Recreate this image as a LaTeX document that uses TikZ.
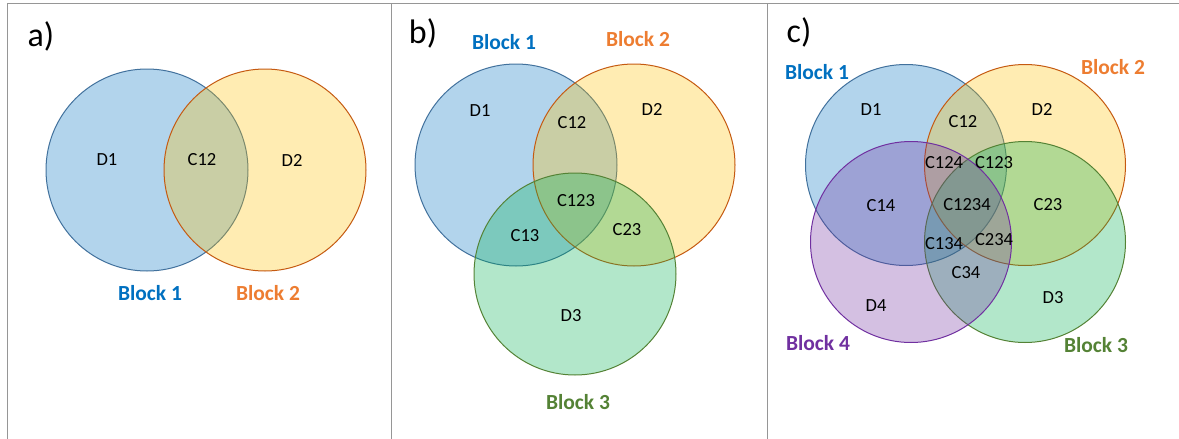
\documentclass[tikz,border=0pt]{standalone}
\usepackage{fontspec}
\setmainfont{Carlito}
\definecolor{fblue}{RGB}{0,112,192}
\definecolor{fyel}{RGB}{255,192,0}
\definecolor{fgrn}{RGB}{0,176,80}
\definecolor{fpur}{RGB}{112,48,160}
\definecolor{sblue}{RGB}{65,113,156}
\definecolor{sorg}{RGB}{197,90,17}
\definecolor{sgrn}{RGB}{84,130,53}
\definecolor{spur}{RGB}{112,48,160}
\definecolor{tblue}{RGB}{0,112,192}
\definecolor{torg}{RGB}{237,125,49}
\definecolor{tgrn}{RGB}{84,130,53}
\definecolor{tpur}{RGB}{112,48,160}
\definecolor{frame}{RGB}{150,150,150}
\tikzset{
  c1/.style={draw=sblue,fill=fblue,fill opacity=0.3,draw opacity=1,line width=1pt},
  c2/.style={draw=sorg,fill=fyel,fill opacity=0.3,draw opacity=1,line width=1pt},
  c3/.style={draw=sgrn,fill=fgrn,fill opacity=0.3,draw opacity=1,line width=1pt},
  c4/.style={draw=spur,fill=fpur,fill opacity=0.3,draw opacity=1,line width=1pt},
  lbl/.style={font=\fontsize{18.5}{20}\selectfont,text=black,inner sep=0pt},
  blk/.style={font=\fontsize{21.5}{24}\selectfont\bfseries,inner sep=0pt},
  ttl/.style={font=\fontsize{34}{38}\selectfont,inner sep=0pt},
  sep/.style={draw=frame,line width=1pt}
}
\begin{document}
\begin{tikzpicture}[x=1pt,y=-1pt]
\useasboundingbox (0,0) rectangle (1179,439);
% frame
\coordinate (tl) at (7,3);
\coordinate (tr) at (1179,3);
\coordinate (bl) at (7,439);
\coordinate (s1t) at (391.5,3);
\coordinate (s1b) at (391.5,439);
\coordinate (s2t) at (767,3);
\coordinate (s2b) at (767,439);
\draw[sep] (bl) -- (tl) -- (tr);
\draw[sep] (s1t) -- (s1b);
\draw[sep] (s2t) -- (s2b);
% panel a
\node[ttl] (ta) at (41,36) {a)};
\path[c1] (147,170) circle (101);
\path[c2] (265,170) circle (101);
\node[lbl] (ad1) at (107,160) {D1};
\node[lbl] (ac12) at (202,160) {C12};
\node[lbl] (ad2) at (292,160) {D2};
\node[blk,text=tblue] (ab1) at (150,293) {Block 1};
\node[blk,text=torg] (ab2) at (268,293) {Block 2};
% panel b
\node[ttl] (tb) at (423,33) {b)};
\path[c1] (516,165) circle (101);
\path[c2] (634,165) circle (101);
\path[c3] (575,274) circle (101);
\node[lbl] (bd1) at (480,111) {D1};
\node[lbl] (bc12) at (572,123) {C12};
\node[lbl] (bd2) at (652,109) {D2};
\node[lbl] (bc123) at (576,201) {C123};
\node[lbl] (bc13) at (525,236) {C13};
\node[lbl] (bc23) at (627,230) {C23};
\node[lbl] (bd3) at (571,316) {D3};
\node[blk,text=tblue] (bb1) at (504,42) {Block 1};
\node[blk,text=torg] (bb2) at (638,39) {Block 2};
\node[blk,text=tgrn] (bb3) at (578,402) {Block 3};
% panel c
\node[ttl] (tc) at (799,32) {c)};
\path[c1] (906,165) circle (100.5);
\path[c2] (1025,165) circle (100.5);
\path[c3] (1025,242) circle (100.5);
\path[c4] (911,242) circle (100.5);
\node[lbl] (cd1) at (871,110) {D1};
\node[lbl] (cc12) at (963,122) {C12};
\node[lbl] (cd2) at (1042,109) {D2};
\node[lbl] (cc124) at (944,163) {C124};
\node[lbl] (cc123) at (994,163) {C123};
\node[lbl] (cc14) at (881,206) {C14};
\node[lbl] (cc1234) at (967,205) {C1234};
\node[lbl] (cc23) at (1048,205) {C23};
\node[lbl] (cc134) at (944,244) {C134};
\node[lbl] (cc234) at (994,240) {C234};
\node[lbl] (cc34) at (966,273) {C34};
\node[lbl] (cd4) at (876,306) {D4};
\node[lbl] (cd3) at (1053,298) {D3};
\node[blk,text=tblue] (cb1) at (817,72) {Block 1};
\node[blk,text=torg] (cb2) at (1113,67) {Block 2};
\node[blk,text=tgrn] (cb3) at (1096,345) {Block 3};
\node[blk,text=tpur] (cb4) at (818,343) {Block 4};
\end{tikzpicture}
\end{document}
